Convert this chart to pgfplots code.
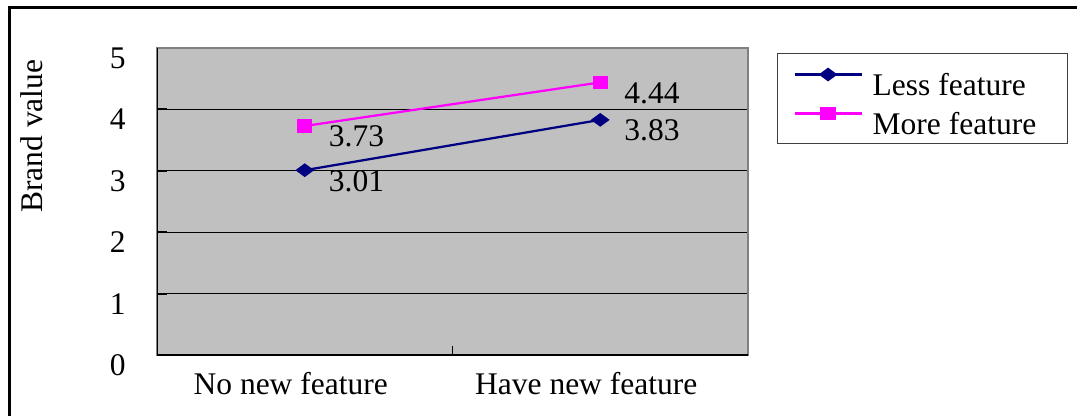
\documentclass[border=0pt]{standalone}
\usepackage{pgfplots}
\pgfplotsset{compat=1.18}
\usepackage{fontspec}
\setmainfont{Liberation Serif}

\definecolor{plotgray}{HTML}{C0C0C0}
\definecolor{framegray}{HTML}{808080}
\definecolor{lessblue}{HTML}{000080}
\definecolor{moremag}{HTML}{FF00FF}

\begin{document}
\begin{tikzpicture}[font=\fontsize{12.6pt}{15pt}\selectfont]
  \useasboundingbox (0,0) rectangle (430.8pt,-166.4pt);
  % outer chart frame
  \draw[black, line width=1.1pt, line join=miter] (3.8pt,-166.4pt) -- (3.8pt,-3pt) -- (430.8pt,-3pt);
  \begin{axis}[
    at={(62.8pt,-142pt)}, anchor=south west,
    scale only axis, width=236.4pt, height=122.8pt,
    xmin=-0.5, xmax=1.5, ymin=0, ymax=5,
    xtick={0,1},
    xticklabels={No new feature, Have new feature},
    minor xtick={0.5},
    ytick={0,1,2,3,4,5},
    xtick pos=bottom, ytick pos=left,
    tick align=inside,
    major tick length=4pt, minor tick length=3.6pt,
    major x tick style={draw=none},
    minor x tick style={black, line width=0.6pt},
    ytick style={black, line width=0.8pt},
    ymajorgrids,
    major grid style={black, line width=0.5pt},
    axis background/.style={fill=plotgray},
    axis line style={draw=framegray, line width=0.8pt},
    /pgf/number format/assume math mode=true,
    yticklabel style={anchor=east, xshift=-9pt, yshift=-4pt},
    xticklabel style={xshift=-5.6pt, yshift=-3.2pt},
    ylabel={Brand value},
    every axis y label/.style={at={(axis description cs:-0.2115,0.713)}, rotate=90, anchor=center},
    nodes near coords={\pgfmathprintnumber[fixed,fixed zerofill,precision=2]{\pgfplotspointmeta}},
    every node near coord/.append style={anchor=base west, inner sep=0pt, xshift=9.2pt, yshift=-8.4pt, text=black},
    legend cell align=left,
    legend style={at={(axis description cs:1.049,0.9837)}, anchor=north west,
      draw=black!75, line width=0.4pt, fill=white,
      inner xsep=6.4pt, inner ysep=2.4pt,
      nodes={inner sep=0pt, text height=14.4pt, text depth=1.2pt},
      /tikz/column sep=4pt},
    legend image code/.code={
      \draw[#1, mark repeat=2, mark phase=2]
        plot coordinates {(0pt,1.8pt) (13.4pt,1.8pt) (26.8pt,1.8pt)};
    },
  ]
    % left and bottom axis lines are black
    \draw[black, line width=0.8pt] (rel axis cs:0,1) -- (rel axis cs:0,0) -- (rel axis cs:1,0);

    \addplot[color=lessblue, line width=0.9pt, mark=diamond*,
      mark size=4pt, mark options={yscale=0.55, fill=lessblue}]
      coordinates {(0,3.01) (1,3.83)};
    \addlegendentry{\makebox[71.6pt][l]{Less feature}}

    \addplot[color=moremag, line width=0.9pt, mark=square*,
      mark size=2.6pt, mark options={yscale=0.85, fill=moremag}]
      coordinates {(0,3.73) (1,4.44)};
    \addlegendentry{\makebox[71.6pt][l]{More feature}}
  \end{axis}
\end{tikzpicture}
\end{document}
